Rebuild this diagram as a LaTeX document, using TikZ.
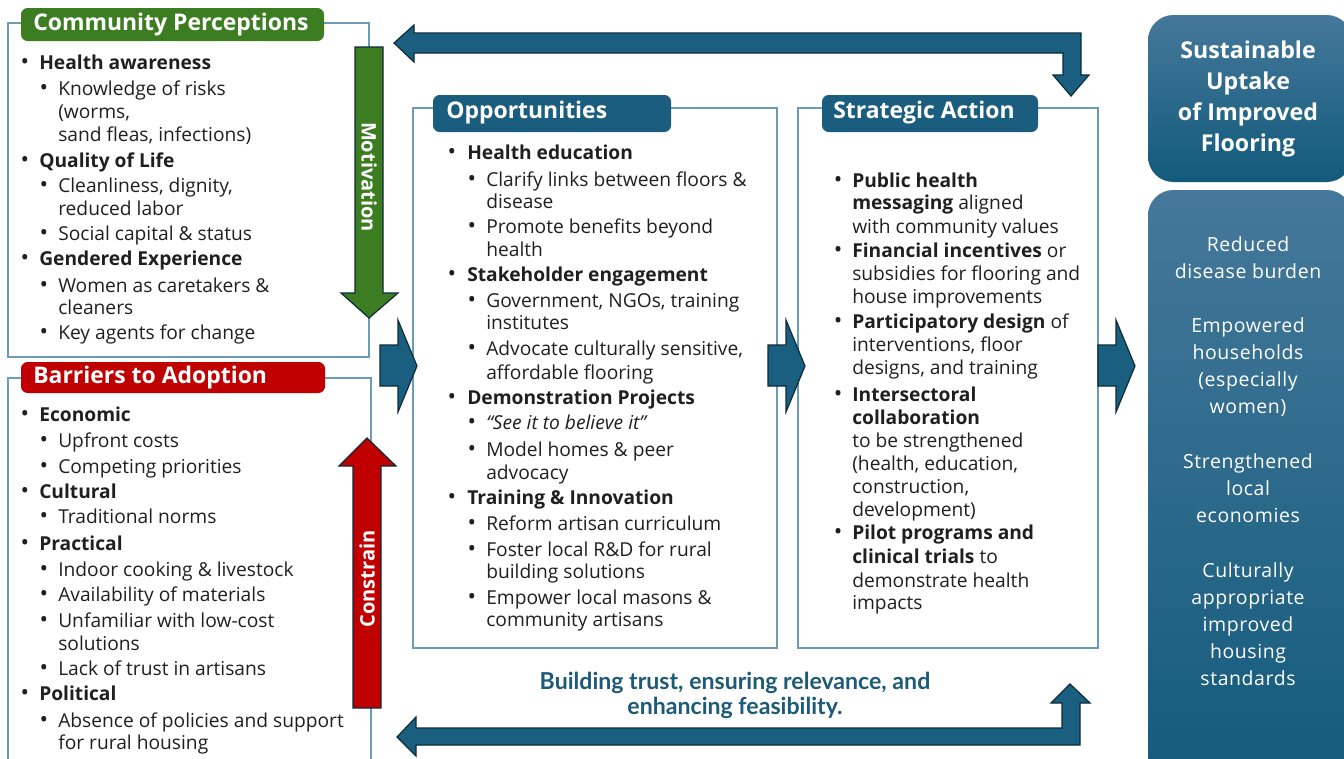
\documentclass[tikz,border=0pt]{standalone}
\usepackage{fontspec}
\setmainfont{Open Sans}
\newfontfamily\loopfont{Lato}
\newfontfamily\outfont[LetterSpace=3]{Open Sans}
\usetikzlibrary{calc}

\definecolor{cpgreen}{HTML}{3C7D22}
\definecolor{brred}{HTML}{C00000}
\definecolor{tabblue}{HTML}{1A5D7E}
\definecolor{arrowblue}{HTML}{1B5F80}
\definecolor{arrowline}{HTML}{0D2B3A}
\definecolor{boxblue}{HTML}{6A9BB8}
\definecolor{ink}{HTML}{1F1F1F}
\definecolor{labelblue}{HTML}{1D5A78}
\definecolor{outtop}{HTML}{45789A}
\definecolor{outbottom}{HTML}{125A7B}

\tikzset{
  boxline/.style={draw=boxblue, line width=0.9pt},
  tabshape/.style={rounded corners=5pt},
  tabtext/.style={anchor=west, inner sep=0pt, text=white,
    font=\bfseries\fontsize{17.2}{18}\selectfont},
  body/.style={anchor=base west, inner sep=0pt, text=ink, yshift=-4.9pt,
    font=\fontsize{14.4}{16}\selectfont},
  bul/.style={anchor=base, inner sep=0pt, text=ink, yshift=-4.9pt,
    font=\fontsize{17}{16}\selectfont},
  blockarrow/.style={draw=arrowline, line width=0.9pt, line join=miter},
  sidelabel/.style={inner sep=0pt, text=white,
    font=\bfseries\fontsize{15}{16}\selectfont},
  outcome/.style={inner sep=0pt, text=white, align=center,
    font=\outfont\fontsize{14.6}{20.25}\selectfont},
}

% bullet line: bullet x, text x, y, name, text
\newcommand\dgItem[5]{%
  \node[bul] (#4b) at (#1,#3) {\textbullet};
  \node[body] (#4) at (#2,#3) {#5};}
% continuation line: text x, y, name, text
\newcommand\dgCont[4]{\node[body] (#3) at (#1,#2) {#4};}

\begin{document}
\begin{tikzpicture}[x=0.75pt,y=-0.75pt]
\useasboundingbox (0,0) rectangle (1344,758);
\clip (0,0) rectangle (1344,758);

% ---------- Community Perceptions ----------
\draw[boxline] (8,23) rectangle (369,357);
\fill[cpgreen, tabshape] (21,8) rectangle (324,41);
\node[tabtext] (cptitle) at (33,24.5) {Community Perceptions};

\dgItem{25}{39}{63}{cp1}{\textbf{Health awareness}}
\dgItem{44}{58}{89}{cp2}{Knowledge of risks}
\dgCont{58}{112}{cp3}{(worms,}
\dgCont{58}{135}{cp4}{sand fleas, infections)}
\dgItem{25}{39}{161}{cp5}{\textbf{Quality of Life}}
\dgItem{44}{58}{186}{cp6}{Cleanliness, dignity,}
\dgCont{58}{209}{cp7}{reduced labor}
\dgItem{44}{58}{234}{cp8}{Social capital \& status}
\dgItem{25}{39}{259}{cp9}{\textbf{Gendered Experience}}
\dgItem{44}{58}{286}{cp10}{Women as caretakers \&}
\dgCont{58}{308}{cp11}{cleaners}
\dgItem{44}{58}{333}{cp12}{Key agents for change}

% ---------- Barriers to Adoption ----------
\draw[boxline] (8,378) rectangle (371,790);
\fill[brred, tabshape] (21,362) rectangle (325,393);
\node[tabtext] (brtitle) at (33,377.5) {Barriers to Adoption};

\dgItem{25}{39}{415}{br1}{\textbf{Economic}}
\dgItem{44}{58}{441}{br2}{Upfront costs}
\dgItem{44}{58}{467}{br3}{Competing priorities}
\dgItem{25}{39}{492}{br4}{\textbf{Cultural}}
\dgItem{44}{58}{517}{br5}{Traditional norms}
\dgItem{25}{39}{544}{br6}{\textbf{Practical}}
\dgItem{44}{58}{570}{br7}{Indoor cooking \& livestock}
\dgItem{44}{58}{595}{br8}{Availability of materials}
\dgItem{44}{58}{621}{br9}{Unfamiliar with low-cost}
\dgCont{58}{644}{br10}{solutions}
\dgItem{44}{58}{669}{br11}{Lack of trust in artisans}
\dgItem{25}{39}{694}{br12}{\textbf{Political}}
\dgItem{44}{58}{721}{br13}{Absence of policies and support}
\dgCont{58}{743}{br14}{for rural housing}

% ---------- Motivation / Constrain arrows ----------
\filldraw[blockarrow, fill=cpgreen]
  (355,47) -- (383,47) -- (383,293) -- (398,293) -- (369,318)
  -- (341,293) -- (355,293) -- cycle;
\node[sidelabel, rotate=-90] (motiv) at (369,177) {Motivation};

\filldraw[blockarrow, fill=brred]
  (353,708) -- (381,708) -- (381,466) -- (396,466) -- (367,438)
  -- (339,466) -- (353,466) -- cycle;
\node[sidelabel, rotate=90] (constr) at (367,579) {Constrain};

% ---------- Opportunities ----------
\draw[boxline] (413,108) rectangle (777,648);
\fill[tabblue, tabshape] (433,95) rectangle (671,132);
\node[tabtext] (optitle) at (446,113) {Opportunities};

\dgItem{452}{467}{153}{op1}{\textbf{Health education}}
\dgItem{472}{486}{180}{op2}{Clarify links between floors \&}
\dgCont{486}{202}{op3}{disease}
\dgItem{472}{486}{227}{op4}{Promote benefits beyond}
\dgCont{486}{250}{op5}{health}
\dgItem{452}{467}{275}{op6}{\textbf{Stakeholder engagement}}
\dgItem{472}{486}{301}{op7}{Government, NGOs, training}
\dgCont{486}{323}{op8}{institutes}
\dgItem{472}{486}{349}{op9}{Advocate culturally sensitive,}
\dgCont{486}{373}{op10}{affordable flooring}
\dgItem{452}{467}{398}{op11}{\textbf{Demonstration Projects}}
\dgItem{472}{486}{423}{op12}{\textit{“See it to believe it”}}
\dgItem{472}{486}{450}{op13}{Model homes \& peer}
\dgCont{486}{473}{op14}{advocacy}
\dgItem{452}{467}{498}{op15}{\textbf{Training \& Innovation}}
\dgItem{472}{486}{524}{op16}{Reform artisan curriculum}
\dgItem{472}{486}{550}{op17}{Foster local R\&D for rural}
\dgCont{486}{572}{op18}{building solutions}
\dgItem{472}{486}{598}{op19}{Empower local masons \&}
\dgCont{486}{620}{op20}{community artisans}

% ---------- Strategic Action ----------
\draw[boxline] (798,108) rectangle (1098,648);
\fill[tabblue, tabshape] (822,95) rectangle (1038,132);
\node[tabtext] (satitle) at (833,113) {Strategic Action};

\dgItem{838}{852}{181}{sa1}{\textbf{Public health}}
\dgCont{852}{203}{sa2}{\textbf{messaging} aligned}
\dgCont{852}{227}{sa3}{with community values}
\dgItem{838}{852}{251}{sa4}{\textbf{Financial incentives} or}
\dgCont{852}{274}{sa5}{subsidies for flooring and}
\dgCont{852}{297}{sa6}{house improvements}
\dgItem{838}{852}{322}{sa7}{\textbf{Participatory design} of}
\dgCont{852}{345}{sa8}{interventions, floor}
\dgCont{852}{368}{sa9}{designs, and training}
\dgItem{838}{852}{395}{sa10}{\textbf{Intersectoral}}
\dgCont{852}{418}{sa11}{\textbf{collaboration}}
\dgCont{852}{441}{sa12}{to be strengthened}
\dgCont{852}{464}{sa13}{(health, education,}
\dgCont{852}{487}{sa14}{construction,}
\dgCont{852}{510}{sa15}{development)}
\dgItem{838}{852}{533}{sa16}{\textbf{Pilot programs and}}
\dgCont{852}{557}{sa17}{\textbf{clinical trials} to}
\dgCont{852}{581}{sa18}{demonstrate health}
\dgCont{852}{603}{sa19}{impacts}

% ---------- flow arrows between columns ----------
\filldraw[blockarrow, fill=arrowblue]
  (380,345) -- (398,345) -- (398,320) -- (417,366) -- (398,412)
  -- (398,386) -- (380,386) -- cycle;
\filldraw[blockarrow, fill=arrowblue]
  (768,345) -- (786,345) -- (786,320) -- (805,366) -- (786,412)
  -- (786,386) -- (768,386) -- cycle;
\filldraw[blockarrow, fill=arrowblue]
  (1098,345) -- (1116,345) -- (1116,320) -- (1135,366) -- (1116,412)
  -- (1116,386) -- (1098,386) -- cycle;

% ---------- feedback loops ----------
\filldraw[blockarrow, fill=arrowblue]
  (414,25) -- (394,43) -- (414,62) -- (414,53) -- (1063,53) -- (1063,75)
  -- (1053,75) -- (1071,96) -- (1089,75) -- (1081,75) -- (1081,33)
  -- (414,33) -- cycle;
\filldraw[blockarrow, fill=arrowblue]
  (416,717) -- (397,737) -- (416,756) -- (416,745) -- (1080,745)
  -- (1080,703) -- (1090,703) -- (1070,684) -- (1051,703) -- (1062,703)
  -- (1062,728) -- (416,728) -- cycle;

\node[inner sep=0pt, text=labelblue, align=center,
      font=\loopfont\bfseries\fontsize{17.5}{18.75}\selectfont] (loop) at (735,695.5)
  {\scalebox{0.99}[1]{Building trust, ensuring relevance, and}\\
   \scalebox{0.99}[1]{enhancing feasibility.}};

% ---------- outcomes ----------
\shade[top color=outtop, bottom color=outbottom, rounded corners=19pt]
  (1148,15) rectangle (1352,182);
\node[inner sep=0pt, text=white, align=center,
      font=\bfseries\fontsize{17.4}{23.25}\selectfont] (goal) at (1248,98.5)
  {Sustainable\\Uptake\\of Improved\\Flooring};

\shade[top color=outtop, bottom color=outbottom, rounded corners=19pt]
  (1148,190) rectangle (1352,800);
\node[outcome] (out1) at (1248,257.5) {Reduced\\disease burden};
\node[outcome] (out2) at (1248,367) {Empowered\\households\\(especially\\women)};
\node[outcome] (out3) at (1248,488.5) {Strengthened\\local\\economies};
\node[outcome] (out4) at (1248,624) {Culturally\\appropriate\\improved\\housing\\standards};

\end{tikzpicture}
\end{document}
